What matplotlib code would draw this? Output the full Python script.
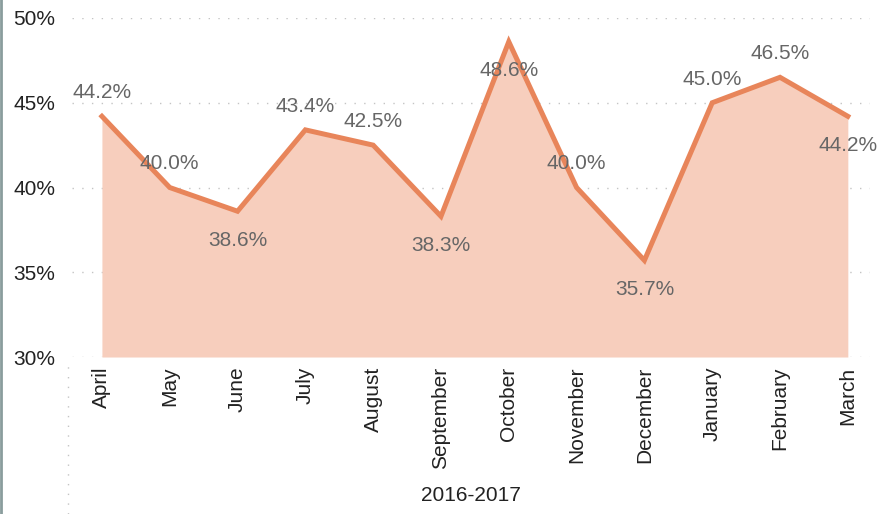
import matplotlib.pyplot as plt
from matplotlib.lines import Line2D

months = ['April', 'May', 'June', 'July', 'August', 'September', 'October',
          'November', 'December', 'January', 'February', 'March']
rate = [44.2, 40.0, 38.6, 43.4, 42.5, 38.3, 48.6, 40.0, 35.7, 45.0, 46.5, 44.2]
# label above (+1) or below (-1) the point
label_side = [1, 1, -1, 1, 1, -1, -1, 1, -1, 1, 1, -1]
yticks = [30, 35, 40, 45, 50]
xtitle = '2016-2017'

plt.rcParams['font.family'] = ['Liberation Sans', 'DejaVu Sans']
FS = 15

fig = plt.figure(figsize=(8.79, 5.14), dpi=100)
ax = fig.add_axes([0.082, 0.3054, 0.908, 0.6596])

x = list(range(len(months)))
ax.fill_between(x, 30, rate, color='#f7cebd', lw=0, zorder=2)
ax.plot(x, rate, color='#e8855a', lw=3.6, solid_joinstyle='miter', zorder=3)

for xi, v, side in zip(x, rate, label_side):
    off = 17 if side > 0 else -21
    ax.annotate(f'{v:.1f}%', (xi, v), xytext=(0, off), textcoords='offset points',
                ha='center', va='center', fontsize=FS, color='#666666', zorder=4)

ax.set_xlim(-0.44, 11.33)
ax.set_ylim(30, 50)
ax.set_yticks(yticks)
ax.set_yticklabels([f'{t}%' for t in yticks])
ax.set_xticks(x)
ax.set_xticklabels(months, rotation=90, va='top')
ax.tick_params(axis='both', length=0, labelsize=FS, labelcolor='#222222')
ax.tick_params(axis='y', pad=12)
ax.tick_params(axis='x', pad=7)
ax.grid(axis='y', color='#c4c4c4', lw=1, ls=(0, (1, 6)), zorder=1)
for s in ax.spines.values():
    s.set_visible(False)
ax.set_xlabel(xtitle, fontsize=FS, color='#222222', labelpad=12)

# frame details around the chart
fig.add_artist(Line2D([0.0015, 0.0015], [0, 1], transform=fig.transFigure,
                      color='#8a9d9d', lw=2))
fig.add_artist(Line2D([68 / 879, 68 / 879], [0, 1 - 360 / 514], transform=fig.transFigure,
                      color='#c4c4c4', lw=1, ls=(0, (1, 6))))

fig.savefig('out.png', dpi=100)
